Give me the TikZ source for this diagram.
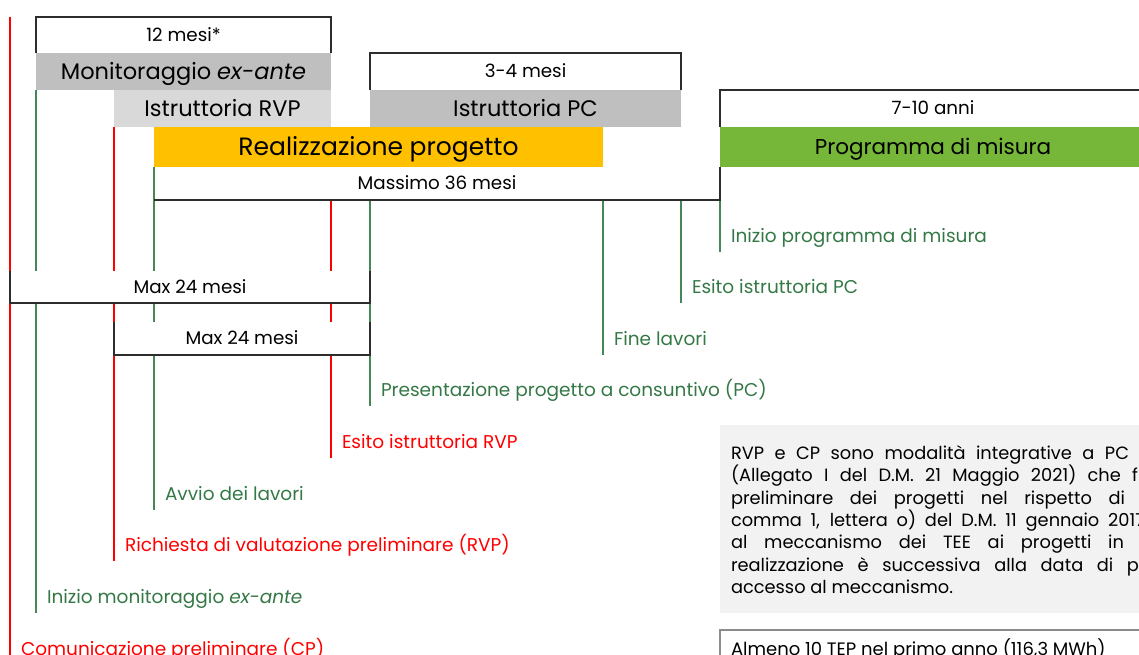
\documentclass[tikz,border=0pt]{standalone}
\usepackage{fontspec}
\setmainfont{Poppins}
\definecolor{gtext}{RGB}{52,120,70}
\definecolor{gline}{RGB}{70,135,88}
\definecolor{rline}{RGB}{255,0,0}
\definecolor{gbar}{RGB}{191,191,191}
\definecolor{lgbar}{RGB}{217,217,217}
\definecolor{yel}{RGB}{255,192,0}
\definecolor{pgreen}{RGB}{118,182,56}
\definecolor{notebg}{RGB}{242,242,242}
\definecolor{frm}{RGB}{45,45,45}
\definecolor{abox}{RGB}{140,140,140}
\newcommand\lblfont{\fontsize{18.5}{22}\selectfont}
\newcommand\hdrfont{\fontsize{18.3}{22}\selectfont}
\newcommand\notefont{\fontsize{17.8}{22}\selectfont}
\newcommand\barfont{\fontsize{22.5}{26}\selectfont}
\tikzset{
  bar/.style={anchor=north west, inner sep=0pt, outer sep=0pt, draw=none, font=\hdrfont, text=black},
  capc/.style={text height=#1, text depth=0pt},
  lbl/.style={anchor=base west, inner sep=0pt, outer sep=0pt, font=\lblfont},
  glbl/.style={lbl, text=gtext},
  rlbl/.style={lbl, text=rline},
  gl/.style={draw=gline, line width=1.3pt},
  rl/.style={draw=rline, line width=1.3pt},
  frame/.style={draw=frm, line width=1.5pt},
  ntxt/.style={anchor=base west, inner sep=0pt, outer sep=0pt, font=\notefont, text=black}
}
\begin{document}
\begin{tikzpicture}[x=1pt,y=-1pt]
\useasboundingbox (0,0) rectangle (1139,655);
\clip (0,0) rectangle (1139,655);

% bars
\node[bar, capc=15.8pt, fill=gbar, minimum width=295pt, minimum height=37pt, font=\barfont] (mon) at (36,53) {Monitoraggio \textit{ex-ante}};
\node[bar, capc=15.8pt, fill=lgbar, minimum width=217pt, minimum height=37pt, font=\barfont] (rvp) at (114,90) {Istruttoria RVP};
\node[bar, capc=17.5pt, fill=yel, minimum width=449pt, minimum height=40pt, font=\fontsize{25}{28}\selectfont] (real) at (154,127) {Realizzazione progetto};
\node[bar, capc=15.8pt, fill=gbar, minimum width=311pt, minimum height=37pt, font=\barfont] (ipc) at (370,90) {Istruttoria PC};
\node[bar, capc=15pt, fill=pgreen, minimum width=426pt, minimum height=40pt, font=\fontsize{21.5}{25}\selectfont] (prog) at (720,127) {Programma di misura};

% duration headers
\node[bar, capc=12.8pt, minimum width=295pt, minimum height=36pt] (m12) at (36,17) {12 mesi*};
\node[bar, capc=12.8pt, minimum width=311pt, minimum height=37pt] (m34) at (370,53) {3-4 mesi};
\node[bar, capc=12.8pt, minimum width=426pt, minimum height=37pt] (m710) at (720,90) {7-10 anni};
\node[bar, capc=12.8pt, minimum width=566pt, minimum height=33pt] (m36) at (154,167) {Massimo 36 mesi};

% line ends
\coordinate (e10) at (10,670);
\coordinate (e36) at (36,613);
\coordinate (e114) at (114,561);
\coordinate (e154) at (154,510);
\coordinate (e331) at (331,458);
\coordinate (e370) at (370,406);
\coordinate (e603) at (603,355);
\coordinate (e681) at (681,303);
\coordinate (e720) at (720,252);

% milestone lines
\draw[rl] (m12.north -| e10) -- (e10);
\draw[gl] (mon.south west) -- (e36);
\draw[rl] (rvp.south west) -- (e114);
\draw[gl] (real.south west) -- (e154);
\draw[rl] (m36.south -| e331) -- (e331);
\draw[gl] (m36.south -| e370) -- (e370);
\draw[gl] (m36.south -| e603) -- (e603);
\draw[gl] (m36.south -| e681) -- (e681);
\draw[gl] (m36.south -| e720) -- (e720);

% milestone labels
\node[glbl] (t720) at (731,242) {Inizio programma di misura};
\node[glbl] (t681) at (692,293) {Esito istruttoria PC};
\node[glbl] (t603) at (614,345) {Fine lavori};
\node[glbl] (t370) at (381,396) {Presentazione progetto a consuntivo (PC)};
\node[rlbl] (t331) at (342,448) {Esito istruttoria RVP};
\node[glbl] (t154) at (165,500) {Avvio dei lavori};
\node[rlbl] (t114) at (125,551) {Richiesta di valutazione preliminare (RVP)};
\node[glbl] (t36) at (47,603) {Inizio monitoraggio \textit{ex-ante}};
\node[rlbl] (t10) at (21,655) {Comunicazione preliminare (CP)};

% max 24 brackets (cover lines)
\node[bar, capc=12.8pt, fill=white, minimum width=360pt, minimum height=32pt] (mx1) at (10,271) {Max 24 mesi};
\node[bar, capc=12.8pt, fill=white, minimum width=256pt, minimum height=33pt] (mx2) at (114,322) {Max 24 mesi};

% frames
\draw[frame] (m12.south west) -- (m12.north west) -- (m12.north east) -- (m12.south east);
\draw[frame] (m34.south west) -- (m34.north west) -- (m34.north east) -- (m34.south east);
\draw[frame] (m710.south west) -- (m710.north west) -- (m710.north east);
\draw[frame] (m36.south west) -- (m36.south east) -- (m36.north east);
\draw[frame] (mx1.north west) -- (mx1.south west) -- (mx1.south east) -- (mx1.north east);
\draw[frame] (mx2.north west) -- (mx2.south west) -- (mx2.south east) -- (mx2.north east);

% note
\node[bar, fill=notebg, minimum width=430pt, minimum height=188pt] (note) at (720,425) {};
\node[ntxt] (n1) at (731,459) {\makebox[398pt][s]{RVP e CP sono modalità integrative a PC}};
\node[ntxt] (n2) at (731,481.5) {\makebox[407pt][s]{(Allegato I del D.M. 21 Maggio 2021) che f}};
\node[ntxt] (n3) at (731,504) {\makebox[394pt][s]{preliminare dei progetti nel rispetto di}};
\node[ntxt] (n4) at (731,526) {\makebox[414pt][s]{comma 1, lettera o) del D.M. 11 gennaio 2017}};
\node[ntxt] (n5) at (731,548.5) {\makebox[393pt][s]{al meccanismo dei TEE ai progetti in}};
\node[ntxt] (n6) at (731,571) {\makebox[408pt][s]{realizzazione è successiva alla data di p}};
\node[ntxt] (n7) at (731,593) {accesso al meccanismo.};

% almeno box
\node[bar, draw=abox, line width=1.2pt, minimum width=430pt, minimum height=40pt] (alm) at (720,630) {};
\node[ntxt, font=\fontsize{18}{22}\selectfont] (at) at (731,655) {Almeno 10 TEP nel primo anno (116,3 MWh)};
\end{tikzpicture}
\end{document}
